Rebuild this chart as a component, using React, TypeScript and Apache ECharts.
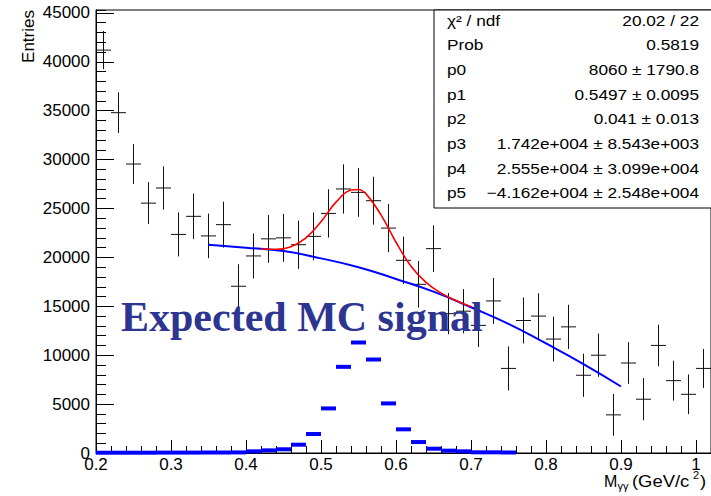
import { useEffect, useRef } from 'react';
import * as echarts from 'echarts';

// Data histogram (bin centres, entries, vertical errors)
const binCenters = [0.21, 0.23, 0.25, 0.27, 0.29, 0.31, 0.33, 0.35, 0.37, 0.39, 0.41, 0.43, 0.45, 0.47, 0.49, 0.51, 0.53, 0.55, 0.57, 0.59, 0.61, 0.63, 0.65, 0.67, 0.69, 0.71, 0.73, 0.75, 0.77, 0.79, 0.81, 0.83, 0.85, 0.87, 0.89, 0.91, 0.93, 0.95, 0.97, 0.99, 1.01];
const entries = [41200, 34800, 29550, 25550, 27100, 22350, 24200, 22200, 23350, 17050, 20150, 21900, 22000, 21300, 22150, 24500, 27000, 26650, 25800, 23000, 19700, 17250, 20900, 14250, 14500, 13050, 15550, 8650, 13550, 14000, 11650, 12900, 7950, 10000, 3900, 9200, 5500, 11000, 7400, 6000, 8650];
const entryErrors = [1950, 2080, 2040, 2140, 2210, 2250, 2330, 2280, 2350, 2250, 2300, 2450, 2450, 2470, 2450, 2470, 2520, 2500, 2450, 2470, 2430, 2380, 2380, 2100, 2260, 2210, 2350, 2250, 2350, 2330, 2300, 2260, 2210, 2210, 2130, 2130, 2160, 2130, 2040, 2030, 1990];
const binHalfWidth = 0.01;

// Background polynomial (blue)
const bkgX = [0.35, 0.4, 0.45, 0.5, 0.55, 0.6, 0.65, 0.7, 0.75, 0.8, 0.85, 0.9];
const bkgY = [21300, 21000, 20650, 19900, 19000, 17800, 16500, 14900, 13200, 11200, 9100, 6800];

// Total fit (red)
const fitX = [0.42, 0.44, 0.46, 0.48, 0.5, 0.52, 0.54, 0.55, 0.56, 0.58, 0.6, 0.62, 0.64, 0.66, 0.68, 0.7];
const fitY = [20860, 20830, 21100, 22000, 23650, 25650, 26900, 26950, 26500, 24350, 21550, 19100, 17450, 16350, 15600, 14950];

// Expected MC signal histogram (lower bin edges, counts)
const mcLowEdges = [0.2, 0.22, 0.24, 0.26, 0.28, 0.3, 0.32, 0.34, 0.36, 0.38, 0.4, 0.42, 0.44, 0.46, 0.48, 0.5, 0.52, 0.54, 0.56, 0.58, 0.6, 0.62, 0.64, 0.66, 0.68, 0.7, 0.72, 0.74];
const mcCounts = [30, 30, 30, 30, 40, 40, 40, 50, 50, 60, 170, 270, 380, 850, 1940, 4560, 8810, 11300, 9560, 5070, 2420, 1120, 440, 240, 170, 70, 70, 50];
const mcBinWidth = 0.02;

const xTickValues = [0.2, 0.3, 0.4, 0.5, 0.6, 0.7, 0.8, 0.9, 1.0];
const xTickLabels = ['0.2', '0.3', '0.4', '0.5', '0.6', '0.7', '0.8', '0.9', '1'];
const yTickValues = [0, 5000, 10000, 15000, 20000, 25000, 30000, 35000, 40000, 45000];
const yTickLabels = ['0', '5000', '10000', '15000', '20000', '25000', '30000', '35000', '40000', '45000'];

const statNames = ['χ² / ndf', 'Prob', 'p0', 'p1', 'p2', 'p3', 'p4', 'p5'];
const statValues = ['20.02 / 22', '0.5819', '8060 ± 1790.8', '0.5497 ± 0.0095', '0.041 ± 0.013', '1.742e+004 ± 8.543e+003', '2.555e+004 ± 3.099e+004', '−4.162e+004 ± 2.548e+004'];

const SANS = '"Liberation Sans", Arial, Helvetica, sans-serif';
const SERIF = '"Liberation Serif", "Times New Roman", serif';

function lookup(values: number[], labels: string[], v: number, tol: number) {
  for (let i = 0; i < values.length; i++) {
    if (Math.abs(values[i] - v) < tol) return labels[i];
  }
  return '';
}

export default function App() {
  const ref = useRef<HTMLDivElement>(null);

  useEffect(() => {
    if (!ref.current) return;
    const chart = echarts.init(ref.current, null, { renderer: 'svg' });

    const statRows: any[] = [];
    statNames.forEach((name, i) => {
      const y = 20 + i * 24.7;
      statRows.push({
        type: 'text', x: 447, y, scaleX: 1.15, z: 101,
        style: { text: name, font: `15px ${SANS}`, fill: '#000', align: 'left', textAlign: 'left', verticalAlign: 'middle', textVerticalAlign: 'middle' },
      });
      statRows.push({
        type: 'text', x: 699, y, scaleX: 1.15, z: 101,
        style: { text: statValues[i], font: `15px ${SANS}`, fill: '#000', align: 'right', textAlign: 'right', verticalAlign: 'middle', textVerticalAlign: 'middle' },
      });
    });

    const option: any = {
      animation: false,
      backgroundColor: '#fff',
      grid: { left: 96, right: -1, top: 10, bottom: 43, show: true, borderColor: '#000', borderWidth: 1, backgroundColor: 'transparent' },
      xAxis: [
        {
          type: 'value', min: 0.2, max: 1.02, interval: 0.1, position: 'bottom',
          axisLine: { show: true, lineStyle: { color: '#000', width: 1 } },
          axisTick: { show: true, inside: true, length: 13, lineStyle: { color: '#000' } },
          axisLabel: {
            show: true, color: '#000', fontFamily: SANS, fontSize: 17, margin: 3, showMaxLabel: false,
            formatter: (v: number) => lookup(xTickValues, xTickLabels, v, 1e-6),
          },
          splitLine: { show: false },
        },
        {
          type: 'value', min: 0.2, max: 1.02, interval: 0.02, position: 'bottom', offset: 0,
          axisLine: { show: false },
          axisTick: { show: true, inside: true, length: 7, lineStyle: { color: '#000' } },
          axisLabel: { show: false },
          splitLine: { show: false },
        },
      ],
      yAxis: [
        {
          type: 'value', min: 0, max: 45300, interval: 5000, position: 'left',
          axisLine: { show: true, lineStyle: { color: '#000', width: 1 } },
          axisTick: { show: true, inside: true, length: 18, lineStyle: { color: '#000' } },
          axisLabel: {
            show: true, color: '#000', fontFamily: SANS, fontSize: 17, margin: 6, showMaxLabel: false,
            formatter: (v: number) => lookup(yTickValues, yTickLabels, v, 1e-3),
          },
          splitLine: { show: false },
        },
        {
          type: 'value', min: 0, max: 45300, interval: 1000, position: 'left', offset: 0,
          axisLine: { show: false },
          axisTick: { show: true, inside: true, length: 10, lineStyle: { color: '#000' } },
          axisLabel: { show: false },
          splitLine: { show: false },
        },
      ],
      series: [
        {
          type: 'custom', name: 'MC', xAxisIndex: 0, yAxisIndex: 0, clip: false, z: 3,
          encode: { x: [0, 1], y: 2 },
          data: mcLowEdges.map((lo, i) => [lo, lo + mcBinWidth, mcCounts[i]]),
          renderItem: (_p: any, api: any) => {
            const a = api.coord([api.value(0), api.value(2)]);
            const b = api.coord([api.value(1), api.value(2)]);
            return {
              type: 'line',
              shape: { x1: a[0], y1: a[1], x2: b[0], y2: b[1] },
              style: { stroke: '#0000ff', lineWidth: 4 },
            };
          },
        },
        {
          type: 'custom', name: 'data', xAxisIndex: 0, yAxisIndex: 0, clip: false, z: 4,
          encode: { x: 0, y: 1 },
          data: binCenters.map((x, i) => [x, entries[i], entryErrors[i]]),
          renderItem: (_p: any, api: any) => {
            const x = api.value(0);
            const y = api.value(1);
            const e = api.value(2);
            const l = api.coord([x - binHalfWidth, y]);
            const r = api.coord([x + binHalfWidth, y]);
            const t = api.coord([x, y + e]);
            const b = api.coord([x, y - e]);
            return {
              type: 'group',
              children: [
                { type: 'line', shape: { x1: l[0], y1: l[1], x2: r[0], y2: r[1] }, style: { stroke: '#111', lineWidth: 1 } },
                { type: 'line', shape: { x1: t[0], y1: t[1], x2: b[0], y2: b[1] }, style: { stroke: '#111', lineWidth: 1 } },
              ],
            };
          },
        },
        {
          type: 'line', name: 'background', xAxisIndex: 0, yAxisIndex: 0, z: 5,
          data: bkgX.map((x, i) => [x, bkgY[i]]),
          smooth: true, showSymbol: false, symbol: 'none',
          lineStyle: { color: '#0000ff', width: 2 },
        },
        {
          type: 'line', name: 'fit', xAxisIndex: 0, yAxisIndex: 0, z: 6,
          data: fitX.map((x, i) => [x, fitY[i]]),
          smooth: 0.4, showSymbol: false, symbol: 'none',
          lineStyle: { color: '#ff0000', width: 1.6 },
        },
      ],
      graphic: [
        {
          type: 'rect', z: 100,
          shape: { x: 434, y: 10, width: 290, height: 198 },
          style: { fill: '#fff', stroke: '#000', lineWidth: 1 },
        },
        ...statRows,
        {
          type: 'text', x: 121, y: 317, z: 110,
          style: { text: 'Expected MC signal', font: `bold 42px ${SERIF}`, fill: '#2c3590', align: 'left', textAlign: 'left', verticalAlign: 'middle', textVerticalAlign: 'middle' },
        },
        {
          type: 'text', x: 28, y: 10, rotation: Math.PI / 2, z: 110,
          style: { text: 'Entries', font: `17px ${SANS}`, fill: '#000', align: 'right', textAlign: 'right', verticalAlign: 'middle', textVerticalAlign: 'middle' },
        },
        {
          type: 'group', x: 604, y: 481, z: 110,
          children: [
            { type: 'text', x: 0, y: 0, style: { text: 'M', font: `16px ${SANS}`, fill: '#000', align: 'left', textAlign: 'left', verticalAlign: 'middle', textVerticalAlign: 'middle' } },
            { type: 'text', x: 13.5, y: 5, style: { text: 'γγ', font: `11px ${SANS}`, fill: '#000', align: 'left', textAlign: 'left', verticalAlign: 'middle', textVerticalAlign: 'middle' } },
            { type: 'text', x: 28, y: 0, scaleX: 1.15, style: { text: '(GeV/c', font: `16px ${SANS}`, fill: '#000', align: 'left', textAlign: 'left', verticalAlign: 'middle', textVerticalAlign: 'middle' } },
            { type: 'text', x: 89, y: -6, style: { text: '2', font: `11px ${SANS}`, fill: '#000', align: 'left', textAlign: 'left', verticalAlign: 'middle', textVerticalAlign: 'middle' } },
            { type: 'text', x: 96, y: 0, scaleX: 1.15, style: { text: ')', font: `16px ${SANS}`, fill: '#000', align: 'left', textAlign: 'left', verticalAlign: 'middle', textVerticalAlign: 'middle' } },
          ],
        },
      ],
    };

    chart.setOption(option);
    return () => chart.dispose();
  }, []);

  return (
    <div
      ref={ref}
      style={{ position: 'absolute', left: 0, top: 0, width: 711, height: 496, background: '#fff' }}
    />
  );
}
